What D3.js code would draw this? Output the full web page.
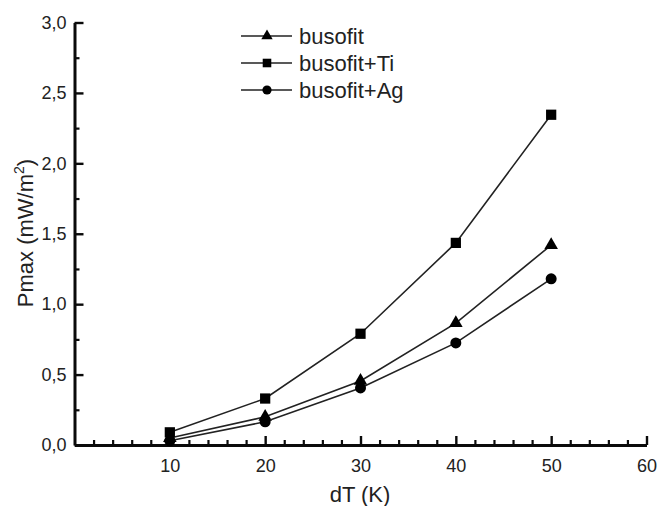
<!DOCTYPE html>
<html>
<head>
<meta charset="utf-8">
<script src="https://cdn.jsdelivr.net/npm/d3@7"></script>
<style>
  body { margin: 0; background: #fff; }
  svg { font-family: "Liberation Sans", Arial, sans-serif; }
</style>
</head>
<body>
<svg id="chart" width="657" height="506"></svg>
<script>
const dT = [10, 20, 30, 40, 50];
const busofit = [0.05, 0.2, 0.455, 0.865, 1.42];
const busofitTi = [0.09, 0.33, 0.79, 1.435, 2.345];
const busofitAg = [0.03, 0.165, 0.405, 0.725, 1.18];
const seriesNames = ["busofit", "busofit+Ti", "busofit+Ag"];
const xTicks = [10, 20, 30, 40, 50, 60];
const yTicks = [0, 0.5, 1, 1.5, 2, 2.5, 3];

const svg = d3.select("#chart");
const ink = "#0a0a0a";

const x = d3.scaleLinear().domain([0, 60]).range([74.5, 646.5]);
const y = d3.scaleLinear().domain([0, 3]).range([445, 22.5]);

const fmt = (d) => d3.format(".1f")(d).replace(".", ",");

// minor ticks
const xMinor = d3.range(2, 60, 2).filter((d) => d % 10 !== 0);
const yMinor = d3.range(0.25, 3, 0.5);

svg.append("g")
  .attr("transform", `translate(0,${y(0)})`)
  .call(d3.axisBottom(x).tickValues(xMinor).tickSize(-5).tickFormat(""))
  .call((g) => g.select(".domain").remove())
  .call((g) => g.selectAll("line").attr("stroke", ink).attr("stroke-width", 2.2));

svg.append("g")
  .attr("transform", `translate(${x(0)},0)`)
  .call(d3.axisLeft(y).tickValues(yMinor).tickSize(-5).tickFormat(""))
  .call((g) => g.select(".domain").remove())
  .call((g) => g.selectAll("line").attr("stroke", ink).attr("stroke-width", 2.2));

// x axis
svg.append("g")
  .attr("transform", `translate(0,${y(0)})`)
  .call(d3.axisBottom(x).tickValues(xTicks).tickSize(-9).tickSizeOuter(0).tickPadding(14).tickFormat((d) => d))
  .call((g) => g.select(".domain").attr("stroke", ink).attr("stroke-width", 3))
  .call((g) => g.selectAll("line").attr("stroke", ink).attr("stroke-width", 2.4))
  .call((g) => g.selectAll("text").attr("fill", "#222").style("font-size", "18px").attr("font-family", null));

// y axis
svg.append("g")
  .attr("transform", `translate(${x(0)},0)`)
  .call(d3.axisLeft(y).tickValues(yTicks).tickSize(-9).tickSizeOuter(0).tickPadding(8).tickFormat(fmt))
  .call((g) => g.select(".domain").attr("stroke", ink).attr("stroke-width", 3))
  .call((g) => g.selectAll("line").attr("stroke", ink).attr("stroke-width", 2.4))
  .call((g) => g.selectAll("text").attr("fill", "#222").style("font-size", "18px").attr("font-family", null));

// axis titles
svg.append("text")
  .attr("x", 360)
  .attr("y", 502)
  .attr("text-anchor", "middle")
  .attr("fill", "#222")
  .style("font-size", "22px")
  .text("dT (K)");

const yl = svg.append("text")
  .attr("transform", "translate(33,233) rotate(-90)")
  .attr("text-anchor", "middle")
  .attr("fill", "#222")
  .style("font-size", "22px");
yl.append("tspan").text("Pmax (mW/m");
yl.append("tspan").attr("dy", -9).style("font-size", "14px").text("2");
yl.append("tspan").attr("dy", 9).text(")");

// series
const series = [
  { name: seriesNames[0], values: busofit, symbol: d3.symbolTriangle, size: 80 },
  { name: seriesNames[1], values: busofitTi, symbol: d3.symbolSquare, size: 105 },
  { name: seriesNames[2], values: busofitAg, symbol: d3.symbolCircle, size: 95 }
];

const line = d3.line().x((d) => x(d[0])).y((d) => y(d[1]));

series.forEach((s) => {
  const pts = dT.map((t, i) => [t, s.values[i]]);
  svg.append("path")
    .attr("d", line(pts))
    .attr("fill", "none")
    .attr("stroke", "#222")
    .attr("stroke-width", 1.6);
  svg.selectAll(null)
    .data(pts)
    .enter()
    .append("path")
    .attr("d", d3.symbol(s.symbol, s.size))
    .attr("transform", (d) => `translate(${x(d[0])},${y(d[1])})`)
    .attr("fill", "#000");
});

// legend
const legend = svg.append("g").attr("transform", "translate(241,36)");
series.forEach((s, i) => {
  const row = legend.append("g").attr("transform", `translate(0,${i * 27})`);
  row.append("line")
    .attr("x1", 0).attr("x2", 51)
    .attr("stroke", "#222").attr("stroke-width", 1.6);
  row.append("path")
    .attr("d", d3.symbol(s.symbol, s.size * 0.7))
    .attr("transform", "translate(26,0)")
    .attr("fill", "#000");
  row.append("text")
    .attr("x", 58)
    .attr("dy", "0.35em")
    .attr("fill", "#222")
    .style("font-size", "22px")
    .text(s.name);
});
</script>
</body>
</html>
